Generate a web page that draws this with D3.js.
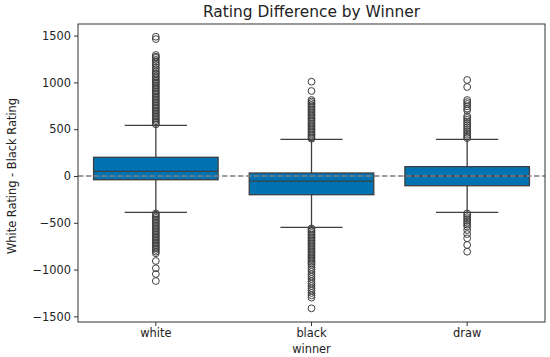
<!DOCTYPE html>
<html>
<head>
<meta charset="utf-8">
<script src="https://cdn.jsdelivr.net/npm/d3@7"></script>
<style>
	body { margin: 0; background: #fff; }
	svg { display: block; font-family: "DejaVu Sans", sans-serif; }
</style>
</head>
<body>
<div id="chart"></div>
<script>
const categories = ['white', 'black', 'draw'];
const q1 = [-40, -200, -104];
const medians = [50, -55, 0];
const q3 = [200, 32, 100];
const whiskerLow = [-388, -549, -388];
const whiskerHigh = [541, 392, 392];
const yTicks = [-1500, -1000, -500, 0, 500, 1000, 1500];

const whiteOutliers = [
	1488, 1463, 1293, 1275, 1262, 1240, 1222, 1200, 1185, 1160, 1142, 1120, 1100, 1085,
	1065, 1050, 1032, 1015, 1000, 985, 968, 950, 935, 918, 900, 885, 868, 850, 835, 818,
	800, 785, 768, 750, 735, 718, 700, 685, 668, 650, 635, 618, 600, 585, 568, 552,
	-400, -415, -432, -448, -465, -480, -497, -512, -530, -545, -562, -578, -595, -610,
	-627, -643, -660, -675, -692, -708, -725, -740, -757, -773, -790, -809, -826, -908,
	-986, -1047, -1122,
];
const blackOutliers = [
	1008, 908, 812, 795, 778, 760, 745, 728, 710, 695, 678, 660, 645, 628, 610, 595, 578,
	560, 545, 528, 510, 495, 478, 460, 445, 428, 410, 398,
	-560, -575, -592, -608, -625, -640, -657, -673, -690, -705, -722, -738, -755, -770,
	-787, -803, -820, -835, -852, -868, -885, -900, -917, -933, -950, -975, -1000, -1025,
	-1050, -1075, -1100, -1125, -1150, -1175, -1200, -1225, -1250, -1275, -1300, -1414,
];
const drawOutliers = [
	1026, 951, 812, 790, 770, 745, 720, 700, 640, 620, 600, 580, 560, 540, 520, 500, 480,
	460, 440, 420, 405,
	-400, -420, -440, -460, -480, -500, -520, -540, -577, -620, -665, -737, -809,
];
const outliers = [whiteOutliers, blackOutliers, drawOutliers];

const boxes = categories.map((c, i) => ({
	name: c, q1: q1[i], med: medians[i], q3: q3[i],
	lo: whiskerLow[i], hi: whiskerHigh[i], out: outliers[i],
}));

const margin = { top: 24, right: 5, bottom: 35, left: 78 };
const width = 550 - margin.left - margin.right;
const height = 357 - margin.top - margin.bottom;
const font = '"DejaVu Sans", sans-serif';

const svg = d3.select('#chart').append('svg')
	.attr('width', 550)
	.attr('height', 357);
const chart = svg.append('g')
	.attr('transform', `translate(${margin.left}, ${margin.top})`);

const x = d3.scaleBand()
	.domain(categories)
	.range([0, width])
	.padding(0);
const y = d3.scaleLinear()
	.domain([-1560, 1624])
	.range([height, 0]);

const boxW = x.bandwidth() * 0.8;
const capW = boxW / 2;
const lineColor = '#3f3f3f';

const groups = chart.selectAll('.box')
	.data(boxes)
	.enter().append('g')
		.attr('class', 'box')
		.attr('transform', d => `translate(${x(d.name) + x.bandwidth() / 2}, 0)`);

// whiskers
groups.append('line')
	.attr('x1', 0).attr('x2', 0)
	.attr('y1', d => y(d.hi)).attr('y2', d => y(d.q3))
	.attr('stroke', lineColor).attr('stroke-width', 1.3);
groups.append('line')
	.attr('x1', 0).attr('x2', 0)
	.attr('y1', d => y(d.q1)).attr('y2', d => y(d.lo))
	.attr('stroke', lineColor).attr('stroke-width', 1.3);
groups.selectAll('.cap')
	.data(d => [d.lo, d.hi])
	.enter().append('line')
		.attr('class', 'cap')
		.attr('x1', -capW / 2).attr('x2', capW / 2)
		.attr('y1', v => y(v)).attr('y2', v => y(v))
		.attr('stroke', lineColor).attr('stroke-width', 1.3);

// box
groups.append('rect')
	.attr('x', -boxW / 2)
	.attr('width', boxW)
	.attr('y', d => y(d.q3))
	.attr('height', d => y(d.q1) - y(d.q3))
	.attr('fill', '#0173b2')
	.attr('stroke', lineColor)
	.attr('stroke-width', 1.3);
groups.append('line')
	.attr('x1', -boxW / 2).attr('x2', boxW / 2)
	.attr('y1', d => y(d.med)).attr('y2', d => y(d.med))
	.attr('stroke', lineColor).attr('stroke-width', 1.3);

// outliers
groups.selectAll('.flier')
	.data(d => d.out)
	.enter().append('circle')
		.attr('class', 'flier')
		.attr('cx', 0)
		.attr('cy', v => y(v))
		.attr('r', 3.4)
		.attr('fill', 'none')
		.attr('stroke', lineColor)
		.attr('stroke-width', 1);

// zero reference line
chart.append('line')
	.attr('x1', 0).attr('x2', width)
	.attr('y1', y(0)).attr('y2', y(0))
	.attr('stroke', '#808080')
	.attr('stroke-width', 1.5)
	.attr('stroke-dasharray', '5.5,2.5');

// frame
chart.append('rect')
	.attr('width', width)
	.attr('height', height)
	.attr('fill', 'none')
	.attr('stroke', '#333')
	.attr('stroke-width', 1);

// axes
const styleAxis = (g) => {
	g.select('.domain').remove();
	g.attr('font-family', font).attr('font-size', 11.4);
	g.selectAll('line').attr('stroke', '#333');
	g.selectAll('text').attr('fill', '#222');
};
chart.append('g')
	.attr('class', 'x axis')
	.attr('transform', `translate(0, ${height})`)
	.call(d3.axisBottom(x).tickSize(4).tickSizeOuter(0).tickPadding(3))
	.call(styleAxis);
chart.append('g')
	.attr('class', 'y axis')
	.call(d3.axisLeft(y).tickValues(yTicks).tickFormat(d3.format('d'))
		.tickSize(4).tickSizeOuter(0).tickPadding(3))
	.call(styleAxis);

// labels
svg.append('text')
	.attr('x', margin.left + width / 2)
	.attr('y', 16.5)
	.attr('text-anchor', 'middle')
	.attr('font-size', '15.4px')
	.attr('fill', '#222')
	.text('Rating Difference by Winner');
svg.append('text')
	.attr('x', margin.left + width / 2)
	.attr('y', 353)
	.attr('text-anchor', 'middle')
	.attr('font-size', '11.4px')
	.attr('fill', '#222')
	.text('winner');
svg.append('text')
	.attr('transform', `translate(16, ${margin.top + y(0)}) rotate(-90)`)
	.attr('text-anchor', 'middle')
	.attr('font-size', '11.4px')
	.attr('fill', '#222')
	.text('White Rating - Black Rating');
</script>
</body>
</html>
